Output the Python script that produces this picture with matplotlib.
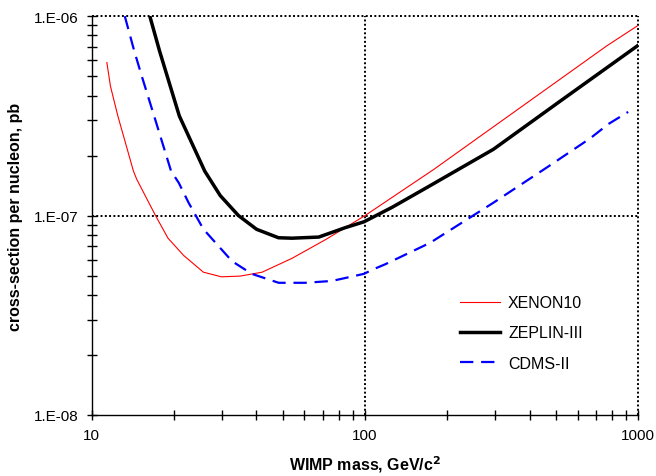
import numpy as np
import matplotlib
matplotlib.use("Agg")
import matplotlib.pyplot as plt
from matplotlib.ticker import FixedLocator, FuncFormatter, LogLocator, NullFormatter

# values (mass in GeV/c^2, cross-section in pb)
xenon_mass = [11.35, 11.7, 12.45, 14.2, 14.6, 17.1, 19.0, 21.7, 25.6, 29.8, 34.9, 42, 54, 72, 100, 178, 767, 1000]
xenon_xs = [5.85e-7, 4.45e-7, 3.16e-7, 1.67e-7, 1.52e-7, 1.0e-7, 7.7e-8, 6.3e-8, 5.2e-8, 4.93e-8, 4.97e-8,
            5.2e-8, 6.1e-8, 7.6e-8, 1.0e-7, 1.7e-7, 7.1e-7, 9.0e-7]

zeplin_mass = [16.3, 17.7, 20.9, 25.9, 29.5, 34.4, 40.1, 48.2, 54, 67.7, 84.7, 99, 125.6, 168, 295, 518, 1000]
zeplin_xs = [1.0e-6, 6.68e-7, 3.16e-7, 1.67e-7, 1.26e-7, 1.0e-7, 8.53e-8, 7.74e-8, 7.7e-8, 7.8e-8, 8.7e-8,
             9.3e-8, 1.1e-7, 1.38e-7, 2.15e-7, 3.75e-7, 7.15e-7]

cdms_mass = [13.2, 14.3, 15.2, 16.9, 19.5, 20.8, 22.6, 25.6, 32.6, 38.5, 48.3, 60.4, 75.7, 99, 107,
             118.6, 173, 295, 462, 667, 778, 918]
cdms_xs = [1.0e-6, 6.68e-7, 5.05e-7, 3.16e-7, 1.67e-7, 1.46e-7, 1.16e-7, 8.55e-8, 5.9e-8, 5.1e-8, 4.6e-8,
           4.6e-8, 4.7e-8, 5.1e-8, 5.37e-8, 5.7e-8, 7.3e-8, 1.16e-7, 1.74e-7, 2.44e-7, 2.88e-7, 3.31e-7]

plt.rcParams['font.family'] = ['Liberation Sans', 'DejaVu Sans']

fig = plt.figure(figsize=(6.56, 4.77), dpi=100)
ax = fig.add_axes([0.140, 0.128, 0.833, 0.836])

ax.plot(xenon_mass, xenon_xs, color='red', lw=0.8, label='XENON10')
ax.plot(zeplin_mass, zeplin_xs, color='black', lw=2.5, label='ZEPLIN-III')
ax.plot(cdms_mass, cdms_xs, color='blue', lw=1.6, dashes=(6, 3.5), label='CDMS-II')

ax.set_xscale('log')
ax.set_yscale('log')
ax.set_xlim(10, 1000)
ax.set_ylim(1e-8, 1e-6)

ax.xaxis.set_major_locator(FixedLocator([10, 100, 1000]))
ax.xaxis.set_minor_locator(LogLocator(base=10, subs=np.arange(2, 10)))
ax.xaxis.set_minor_formatter(NullFormatter())
ax.xaxis.set_major_formatter(FuncFormatter(lambda v, p: f"{v:.0f}"))

ax.yaxis.set_major_locator(FixedLocator([1e-8, 1e-7, 1e-6]))
ax.yaxis.set_minor_locator(LogLocator(base=10, subs=np.arange(2, 10)))
ax.yaxis.set_minor_formatter(NullFormatter())
ax.yaxis.set_major_formatter(FuncFormatter(lambda v, p: f"1.E{int(round(np.log10(v))):03d}"))

# dotted lines at the major ticks, incl. top and right edges (the box is open there)
ax.grid(True, which='major', color='black', ls=(0, (1, 1.2)), lw=1.4)
ax.spines['top'].set_visible(False)
ax.spines['right'].set_visible(False)
ax.spines['left'].set_linewidth(1.0)
ax.spines['bottom'].set_linewidth(1.0)
fig.canvas.draw()
xgl = ax.get_xgridlines()
ygl = ax.get_ygridlines()
xgl[0].set_visible(False)
ygl[0].set_visible(False)
for gl in xgl + ygl:
    gl.set_clip_on(False)

ax.tick_params(which='both', direction='inout', length=7, width=1.0, labelsize=11,
               top=False, right=False, pad=6)

ax.set_xlabel('WIMP mass, GeV/c$^\\mathbf{2}$', fontsize=11.5, fontweight='bold', labelpad=8)
ax.set_ylabel('cross-section per nucleon, pb', fontsize=11.5, fontweight='bold', labelpad=8)

ax.legend(loc='upper left', bbox_to_anchor=(0.674, 0.30), frameon=False, fontsize=11.5,
          borderaxespad=0, borderpad=0, handlelength=2.5, handletextpad=0.5, labelspacing=0.95)

fig.savefig('out.png', dpi=100)
